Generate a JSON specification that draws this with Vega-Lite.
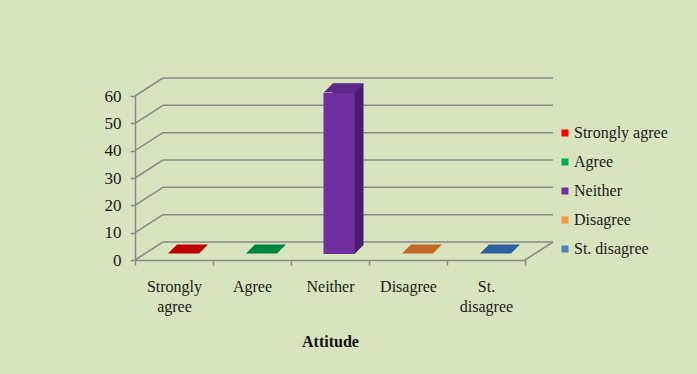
{
  "$schema": "https://vega.github.io/schema/vega-lite/v6.json",
  "width": 390,
  "height": 164,
  "autosize": {"type": "none"},
  "padding": {"left": 135, "top": 96, "right": 172, "bottom": 114},
  "background": "#d7e4bd",
  "config": {
    "view": {"stroke": null},
    "font": "Liberation Serif"
  },
  "datasets": {
    "attitudes": [
      {"Attitude": "Strongly agree", "Count": 0},
      {"Attitude": "Agree", "Count": 0},
      {"Attitude": "Neither", "Count": 59},
      {"Attitude": "Disagree", "Count": 0},
      {"Attitude": "St. disagree", "Count": 0}
    ],
    "grid": [{"v": 0}, {"v": 10}, {"v": 20}, {"v": 30}, {"v": 40}, {"v": 50}, {"v": 60}]
  },
  "layer": [
    {
      "data": {"name": "grid"},
      "mark": {"type": "rule", "color": "#8a8a8a", "strokeWidth": 1.5, "xOffset": 28, "x2Offset": 28, "yOffset": -18, "y2Offset": -18},
      "encoding": {
        "x": {"value": 0},
        "x2": {"value": "width"},
        "y": {
          "field": "v", "type": "quantitative", "scale": {"domain": [0, 60], "nice": false},
          "axis": {
            "title": null, "values": [0, 10, 20, 30, 40, 50, 60], "tickCount": 7, "grid": false,
            "labelOverlap": false, "labelFlush": false,
            "labelFontSize": 17, "labelColor": "#1a1a1a", "labelPadding": 9,
            "tickSize": 5, "tickColor": "#8a8a8a", "tickWidth": 1.5,
            "domainColor": "#8a8a8a", "domainWidth": 1.5
          }
        }
      }
    },
    {
      "data": {"name": "grid"},
      "mark": {"type": "rule", "color": "#8a8a8a", "strokeWidth": 1.5, "x2Offset": 28, "y2Offset": -18},
      "encoding": {
        "x": {"value": 0},
        "x2": {"value": 0},
        "y": {"field": "v", "type": "quantitative", "axis": {"title": null, "values": [0, 10, 20, 30, 40, 50, 60], "tickCount": 7, "labelOverlap": false}},
        "y2": {"field": "v"}
      }
    },
    {
      "data": {"name": "grid"},
      "transform": [{"filter": "datum.v == 0"}],
      "mark": {"type": "rule", "color": "#8a8a8a", "strokeWidth": 1.5, "x2Offset": 28, "y2Offset": -18},
      "encoding": {
        "x": {"value": "width"},
        "x2": {"value": "width"},
        "y": {"field": "v", "type": "quantitative", "axis": {"title": null, "values": [0, 10, 20, 30, 40, 50, 60], "tickCount": 7, "labelOverlap": false}},
        "y2": {"field": "v"}
      }
    },
    {
      "data": {"name": "attitudes"},
      "mark": {"type": "bar", "width": 31, "xOffset": 18, "yOffset": -15, "y2Offset": -15, "color": "#4a1d72"},
      "encoding": {
        "x": {"field": "Attitude", "type": "nominal", "sort": null, "scale": {"paddingInner": 0, "paddingOuter": 0}},
        "y": {"field": "Count", "type": "quantitative", "axis": {"title": null, "values": [0, 10, 20, 30, 40, 50, 60], "tickCount": 7, "labelOverlap": false}}
      }
    },
    {
      "data": {"name": "attitudes"},
      "transform": [{"filter": "datum.Count > 0"}],
      "mark": {"type": "point", "filled": true, "opacity": 1, "strokeWidth": 0, "size": 1600, "shape": "M -1 0.225 L 0.55 0.225 L 1 -0.225 L -0.55 -0.225 Z", "xOffset": 14, "yOffset": -11, "color": "#4a1d72"},
      "encoding": {
        "x": {"field": "Attitude", "type": "nominal", "sort": null},
        "y": {"datum": 0, "type": "quantitative", "axis": {"title": null, "values": [0, 10, 20, 30, 40, 50, 60], "tickCount": 7, "labelOverlap": false}}
      }
    },
    {
      "data": {"name": "attitudes"},
      "mark": {"type": "bar", "width": 31, "xOffset": 9, "yOffset": -6, "y2Offset": -6},
      "encoding": {
        "x": {
          "field": "Attitude", "type": "nominal", "sort": null,
          "axis": {
            "title": "Attitude", "titleFontSize": 16, "titleFontWeight": "bold", "titleColor": "#111111", "titlePadding": 19,
            "labelAngle": 0, "labelAlign": "center", "labelFontSize": 16, "labelColor": "#1a1a1a", "labelPadding": 21, "labelLineHeight": 20,
            "labelExpr": "indexof(datum.label, ' ') > 0 ? split(datum.label, ' ') : datum.label",
            "tickBand": "extent", "tickSize": 5, "tickColor": "#8a8a8a", "tickWidth": 1.5,
            "domainColor": "#8a8a8a", "domainWidth": 1.5, "grid": false
          }
        },
        "y": {
          "field": "Count", "type": "quantitative",
          "axis": {
            "title": null, "values": [0, 10, 20, 30, 40, 50, 60], "tickCount": 7, "grid": false,
            "labelOverlap": false, "labelFlush": false,
            "labelFontSize": 17, "labelColor": "#1a1a1a", "labelPadding": 9,
            "tickSize": 5, "tickColor": "#8a8a8a", "tickWidth": 1.5,
            "domainColor": "#8a8a8a", "domainWidth": 1.5
          }
        },
        "color": {
          "field": "Attitude", "type": "nominal", "sort": null,
          "scale": {"domain": ["Strongly agree", "Agree", "Neither", "Disagree", "St. disagree"], "range": ["#ff0000", "#00b050", "#7030a0", "#f79646", "#4f81bd"]},
          "legend": {
            "title": null, "orient": "none", "legendX": 422, "legendY": 29, "padding": 0,
            "symbolType": "square", "symbolSize": 49, "symbolStrokeWidth": 0,
            "labelFontSize": 16, "labelColor": "#1a1a1a", "labelOffset": 1, "rowPadding": 13
          }
        }
      }
    },
    {
      "data": {"name": "attitudes"},
      "mark": {"type": "point", "filled": true, "opacity": 1, "strokeWidth": 0, "size": 1600, "shape": "M -1 0.225 L 0.55 0.225 L 1 -0.225 L -0.55 -0.225 Z", "xOffset": 14, "yOffset": -11},
      "encoding": {
        "x": {"field": "Attitude", "type": "nominal", "sort": null},
        "y": {"field": "Count", "type": "quantitative", "axis": {"title": null, "values": [0, 10, 20, 30, 40, 50, 60], "tickCount": 7, "labelOverlap": false}},
        "color": {
          "field": "Attitude", "type": "nominal", "sort": null,
          "scale": {"domain": ["Strongly agree", "Agree", "Neither", "Disagree", "St. disagree"], "range": ["#c00000", "#00853f", "#5b2a8c", "#c46a28", "#2f5f9e"]},
          "legend": null
        }
      }
    }
  ],
  "resolve": {"scale": {"color": "independent"}}
}
